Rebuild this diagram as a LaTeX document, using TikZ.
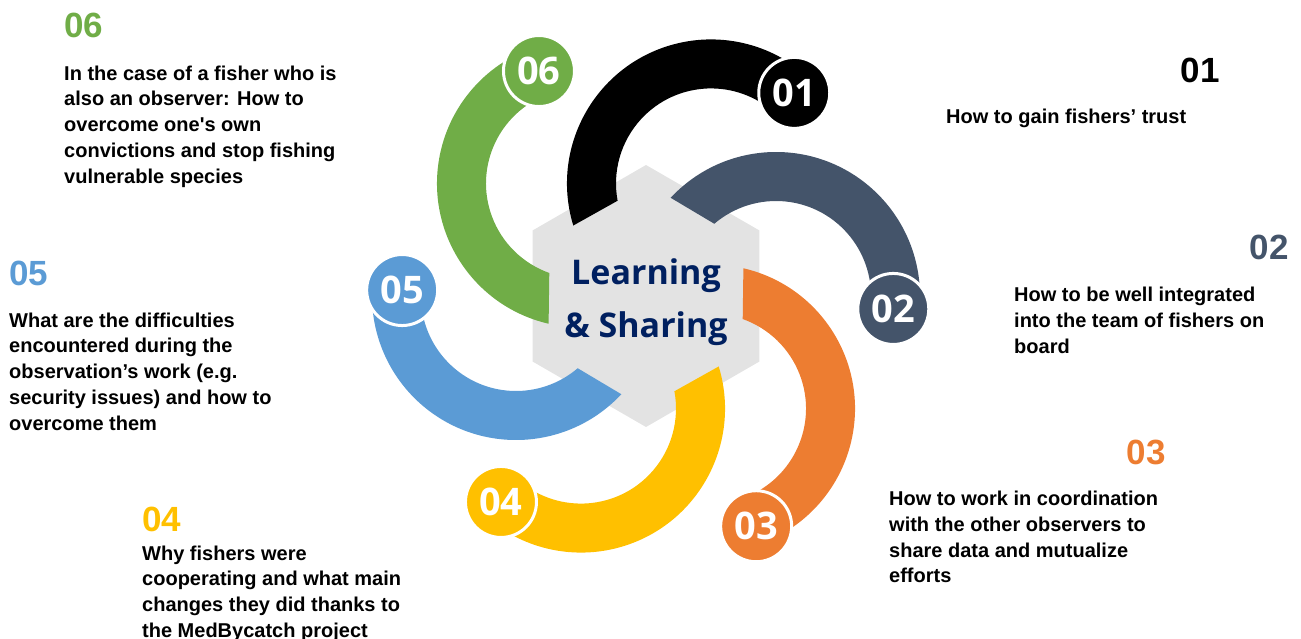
\documentclass[tikz,border=0pt]{standalone}
\usepackage{fontspec}
\setmainfont{Liberation Sans}
\newfontfamily\numfont{Open Sans}
\usetikzlibrary{positioning,calc}

\definecolor{c01}{HTML}{000000}
\definecolor{c02}{HTML}{44546A}
\definecolor{c03}{HTML}{ED7D31}
\definecolor{c04}{HTML}{FFC000}
\definecolor{c05}{HTML}{5B9BD5}
\definecolor{c06}{HTML}{70AD47}
\definecolor{hexgray}{HTML}{E3E3E3}
\definecolor{navy}{HTML}{002060}

\begin{document}
\begin{tikzpicture}
		[
		x = 1pt, y = -1pt,
		badge/.style = {circle, fill=#1, draw=white, line width=3pt, minimum size=71pt, inner sep=0pt, text=white, font=\numfont\bfseries\fontsize{38}{38}\selectfont},
		head/.style = {text=#1, inner sep=0pt, font=\bfseries\fontsize{35}{35}\selectfont},
		topic/.style = {inner sep=0pt, align=left, font=\bfseries\fontsize{20}{25.7}\selectfont},
		hubtext/.style = {text=navy, align=center, inner sep=0pt, font=\numfont\bfseries\fontsize{34}{53}\selectfont}
		]
		
		\useasboundingbox (0,0) rectangle (1301,639);
		\coordinate (mid) at (646,296);
		
		% hexagon
		\fill[hexgray] ($(mid)+(30:131)$) \foreach \a in {90,150,...,330} {-- ($(mid)+(\a:131)$)} -- cycle;
		
		% rings
		\foreach \k/\p/\off/\rad in {1/-60/12.6/123, 2/0/6.3/118, 3/60/9/126, 4/120/10.6/123, 5/180/3/114, 6/240/9.5/120} {
			\coordinate (r\k) at ($(mid)+(\p:130)$);
			\fill[c0\k] ($(r\k)+(\p-137:144)$) arc[start angle=\p-137, end angle=\p+\off, radius=144]
				-- ($(r\k)+(\p+\off:95)$) arc[start angle=\p+\off, end angle=\p-130.5, radius=95] -- cycle;
			\node[badge=c0\k] (n\k) at ($(r\k)+(\p+\off:\rad)$) {0\k};
		}
		
		\node[hubtext] (hub) at (646,302) {Learning\\\& Sharing};
		
		\node[head=c06, anchor=base west] (t6) at (64,38) {06};
		\node[topic, below=27pt of t6.south west, anchor=north west] (q6) {In the case of a fisher who is\\also an observer: How to\\overcome one\textquotesingle s own\\convictions and stop fishing\\vulnerable species};
		
		\node[head=c05, anchor=base west] (t5) at (9,285) {05};
		\node[topic, below=27pt of t5.south west, anchor=north west] (q5) {What are the difficulties\\encountered during the\\observation’s work (e.g.\\security issues) and how to\\overcome them};
		
		\node[head=c04, anchor=base west] (t4) at (142,531) {04};
		\node[topic, below=14pt of t4.south west, anchor=north west] (q4) {Why fishers were\\cooperating and what main\\changes they did thanks to\\the MedBycatch project};
		
		\node[head=c03, anchor=base east] (t3) at (1166,464) {03};
		\node[topic, anchor=north west] (q3) at (889,491) {How to work in coordination\\with the other observers to\\share data and mutualize\\efforts};
		
		\node[head=c01, anchor=base east] (t1) at (1220,83) {01};
		\node[topic, anchor=north west] (q1) at (946,109) {How to gain fishers’ trust};
		
		\node[head=c02, anchor=base east] (t2) at (1289,259) {02};
		\node[topic, anchor=north west] (q2) at (1014,287) {How to be well integrated\\into the team of fishers on\\board};
		
		\end{tikzpicture}
\end{document}
